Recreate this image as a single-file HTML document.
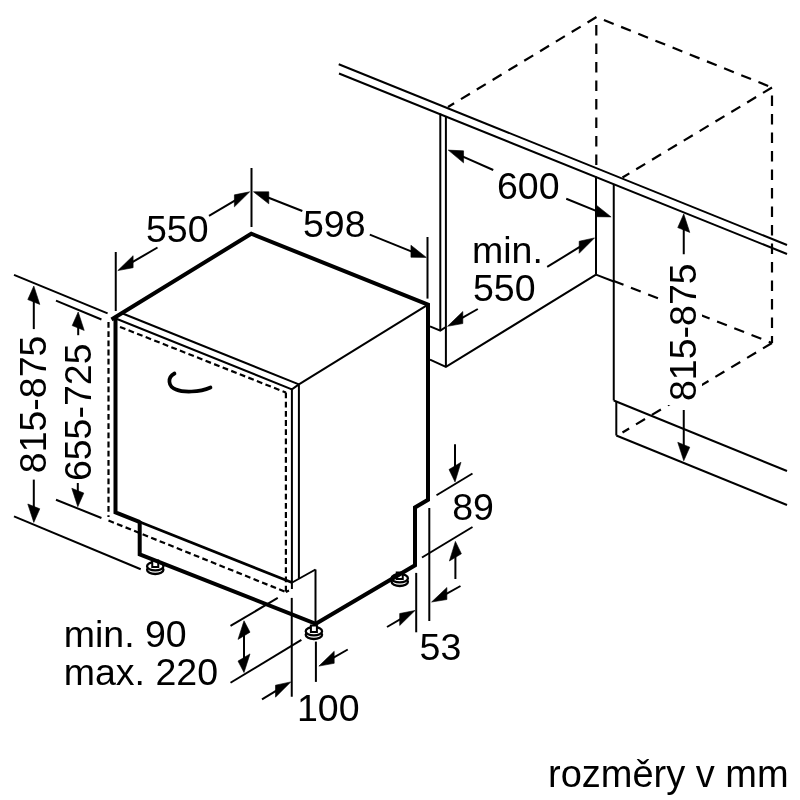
<!DOCTYPE html>
<html><head><meta charset="utf-8"><style>
html,body{margin:0;padding:0;background:#fff;width:800px;height:800px;overflow:hidden}
svg{display:block}
text{font-family:"Liberation Sans",sans-serif;fill:#000}
svg{will-change:transform}
</style></head><body>
<svg width="800" height="800" viewBox="0 0 800 800" stroke="#000" fill="none">
<rect x="0" y="0" width="800" height="800" fill="#fff" stroke="none"/>
<g>
<ellipse cx="155.25" cy="569.8" rx="8.2" ry="4.2" fill="#fff" stroke-width="2.3"/>
<ellipse cx="155.25" cy="566.2" rx="8.2" ry="4.2" fill="#fff" stroke-width="2.3"/>
<rect x="152.25" y="560.5" width="6" height="6.5" fill="#fff" stroke-width="2"/>
<ellipse cx="313.9" cy="634.8" rx="8.2" ry="4.2" fill="#fff" stroke-width="2.3"/>
<ellipse cx="313.9" cy="631.2" rx="8.2" ry="4.2" fill="#fff" stroke-width="2.3"/>
<rect x="310.9" y="625.5" width="6" height="6.5" fill="#fff" stroke-width="2"/>
<ellipse cx="399.75" cy="581.8" rx="8.2" ry="4.2" fill="#fff" stroke-width="2.3"/>
<ellipse cx="399.75" cy="578.2" rx="8.2" ry="4.2" fill="#fff" stroke-width="2.3"/>
<rect x="396.75" y="572.5" width="6" height="6.5" fill="#fff" stroke-width="2"/>
<line x1="338.75" y1="64.25" x2="787" y2="245" stroke-width="2.0" stroke-linecap="butt"/>
<line x1="339" y1="73.5" x2="787" y2="254" stroke-width="2.0" stroke-linecap="butt"/>
<line x1="596.5" y1="17" x2="448" y2="107" stroke-width="2.2" stroke-dasharray="10.5 8" stroke-dashoffset="0" stroke-linecap="butt"/>
<line x1="596.5" y1="17" x2="772" y2="87.5" stroke-width="2.2" stroke-dasharray="10.5 8" stroke-dashoffset="10.5" stroke-linecap="butt"/>
<line x1="772" y1="87.5" x2="622.5" y2="177.5" stroke-width="2.2" stroke-dasharray="10.5 8" stroke-dashoffset="0" stroke-linecap="butt"/>
<line x1="772" y1="87.5" x2="772" y2="343" stroke-width="2.2" stroke-dasharray="10.5 8" stroke-dashoffset="10.5" stroke-linecap="butt"/>
<line x1="596.3" y1="17" x2="596.3" y2="166" stroke-width="2.2" stroke-dasharray="10.5 8" stroke-dashoffset="10.5" stroke-linecap="butt"/>
<line x1="772" y1="343" x2="613.75" y2="281" stroke-width="2.2" stroke-dasharray="10.5 8" stroke-dashoffset="7" stroke-linecap="butt"/>
<line x1="772" y1="343" x2="622.5" y2="432.5" stroke-width="2.2" stroke-dasharray="10.5 8" stroke-dashoffset="0" stroke-linecap="butt"/>
<line x1="440.3" y1="113.5" x2="440.3" y2="330.7" stroke-width="2.0" stroke-linecap="butt"/>
<line x1="445.9" y1="116" x2="445.9" y2="366.9" stroke-width="2.0" stroke-linecap="butt"/>
<polyline points="430,326.3 440.3,330.7 445.9,327" fill="none" stroke-width="2.0" stroke-linejoin="miter"/>
<polyline points="430,359.6 445.9,366.9 596,274.6" fill="none" stroke-width="2.0" stroke-linejoin="miter"/>
<line x1="596" y1="176.5" x2="596" y2="274.6" stroke-width="2.0" stroke-linecap="butt"/>
<line x1="596" y1="274.6" x2="613.75" y2="281.5" stroke-width="2.0" stroke-linecap="butt"/>
<line x1="613.75" y1="184.5" x2="613.75" y2="400.5" stroke-width="2.0" stroke-linecap="butt"/>
<polyline points="613.75,400.5 787,471" fill="none" stroke-width="2.0" stroke-linejoin="miter"/>
<line x1="616.3" y1="401.5" x2="616.3" y2="435.5" stroke-width="2.0" stroke-linecap="butt"/>
<line x1="616.3" y1="435.5" x2="787" y2="505" stroke-width="2.0" stroke-linecap="butt"/>
<polyline points="111.5,319.5 251.25,233.75 428,304.7 428,499.75 415,507.5 415,565.25 315.8,623.75 139.7,554.4 139.7,521" fill="none" stroke-width="4.0" stroke-linejoin="miter"/>
<line x1="122" y1="313.2" x2="298.9" y2="384.4" stroke-width="2.0" stroke-linecap="butt"/>
<line x1="298.9" y1="384.4" x2="428" y2="304.7" stroke-width="2.0" stroke-linecap="butt"/>
<polyline points="117,319 291.9,389.4 298.9,384.4" fill="none" stroke-width="2.0" stroke-linejoin="miter"/>
<polyline points="115.5,317 115.5,512.4 140,522.1" fill="none" stroke-width="4.0" stroke-linejoin="miter"/>
<line x1="291.9" y1="389.4" x2="291.9" y2="589" stroke-width="2.0" stroke-linecap="butt"/>
<line x1="298.9" y1="384.4" x2="298.9" y2="578" stroke-width="2.0" stroke-linecap="butt"/>
<line x1="138" y1="521.3" x2="291.9" y2="582.5" stroke-width="2.8" stroke-linecap="butt"/>
<line x1="120" y1="326.9" x2="285.9" y2="392.5" stroke-width="2.2" stroke-dasharray="5.8 3.4" stroke-dashoffset="0" stroke-linecap="butt"/>
<line x1="108.5" y1="322" x2="108.5" y2="517" stroke-width="2.2" stroke-dasharray="5.8 3.4" stroke-dashoffset="0" stroke-linecap="butt"/>
<line x1="285.9" y1="392.5" x2="285.9" y2="592" stroke-width="2.2" stroke-dasharray="5.8 3.4" stroke-dashoffset="0" stroke-linecap="butt"/>
<line x1="108.5" y1="520.5" x2="285.75" y2="592" stroke-width="2.2" stroke-dasharray="5.8 3.4" stroke-dashoffset="0" stroke-linecap="butt"/>
<line x1="285.8" y1="592" x2="289" y2="590.5" stroke-width="2.0" stroke-linecap="butt"/>
<line x1="292.2" y1="582.5" x2="315.5" y2="569.5" stroke-width="2.0" stroke-linecap="butt"/>
<line x1="315.5" y1="569.5" x2="315.5" y2="623.75" stroke-width="2.0" stroke-linecap="butt"/>
<path d="M174.5,373.5 C167,377.5 168,386.5 176,389.5 C183,392.5 199,392.5 210.5,387.5" fill="none" stroke-width="3.7" stroke-linecap="round"/>
<line x1="251.5" y1="168" x2="251.5" y2="227" stroke-width="2.0" stroke-linecap="butt"/>
<line x1="115.75" y1="252" x2="115.75" y2="311" stroke-width="2.0" stroke-linecap="butt"/>
<line x1="427.5" y1="237" x2="427.5" y2="298.6" stroke-width="2.0" stroke-linecap="butt"/>
<line x1="157.5" y1="247.5" x2="128.51" y2="264.37" stroke-width="2.0"/>
<polygon points="117.8,270.6 133.10,255.70 133.10,267.70" stroke="#000" stroke-width="0.6" stroke-linejoin="round" fill="#000"/>
<line x1="209" y1="215.9" x2="238.99" y2="198.14" stroke-width="2.0"/>
<polygon points="249.7,191.8 234.40,194.86 234.40,206.86" stroke="#000" stroke-width="0.6" stroke-linejoin="round" fill="#000"/>
<line x1="302.3" y1="211" x2="264.21" y2="196.01" stroke-width="2.0"/>
<polygon points="253.5,191.8 268.80,191.82 268.80,203.82" stroke="#000" stroke-width="0.6" stroke-linejoin="round" fill="#000"/>
<line x1="369.8" y1="234.6" x2="415.54" y2="253.07" stroke-width="2.0"/>
<polygon points="426.25,257.4 410.95,245.22 410.95,257.22" stroke="#000" stroke-width="0.6" stroke-linejoin="round" fill="#000"/>
<text x="146" y="242" stroke="none" font-size="37.5" text-anchor="start">550</text>
<text x="303" y="236.5" stroke="none" font-size="37.5" text-anchor="start">598</text>
<line x1="493.25" y1="170" x2="458.96" y2="154.84" stroke-width="2.0"/>
<polygon points="448.25,150.1 463.55,150.87 463.55,162.87" stroke="#000" stroke-width="0.6" stroke-linejoin="round" fill="#000"/>
<line x1="566.25" y1="198.75" x2="600.39" y2="212.57" stroke-width="2.0"/>
<polygon points="611.1,216.9 595.80,204.71 595.80,216.71" stroke="#000" stroke-width="0.6" stroke-linejoin="round" fill="#000"/>
<text x="497" y="199" stroke="none" font-size="37.5" text-anchor="start">600</text>
<line x1="547.2" y1="266.9" x2="583.79" y2="244.47" stroke-width="2.0"/>
<polygon points="594.5,237.9 579.20,241.28 579.20,253.28" stroke="#000" stroke-width="0.6" stroke-linejoin="round" fill="#000"/>
<line x1="477.8" y1="309" x2="458.21" y2="320.19" stroke-width="2.0"/>
<polygon points="447.5,326.3 462.80,311.56 462.80,323.56" stroke="#000" stroke-width="0.6" stroke-linejoin="round" fill="#000"/>
<text x="472" y="262.6" stroke="none" font-size="37.5" text-anchor="start">min.</text>
<text x="473" y="300.5" stroke="none" font-size="37.5" text-anchor="start">550</text>
<line x1="683.75" y1="254.25" x2="683.75" y2="225.20" stroke-width="2.0"/>
<polygon points="683.75,214 677.75,227.60 689.75,232.40" stroke="#000" stroke-width="0.6" stroke-linejoin="round" fill="#000"/>
<line x1="683.75" y1="410" x2="683.75" y2="449.55" stroke-width="2.0"/>
<polygon points="683.75,460.75 677.75,442.35 689.75,447.15" stroke="#000" stroke-width="0.6" stroke-linejoin="round" fill="#000"/>
<rect x="663" y="259" width="39" height="146" fill="#fff" stroke="none"/>
<text x="695.5" y="401" stroke="none" font-size="37.5" text-anchor="start" transform="rotate(-90 695.5 401)">815-875</text>
<line x1="14" y1="274.9" x2="107.6" y2="313.35" stroke-width="2.0" stroke-linecap="butt"/>
<line x1="56" y1="300.6" x2="101.45" y2="319.5" stroke-width="2.0" stroke-linecap="butt"/>
<line x1="14" y1="516.3" x2="140.75" y2="569.25" stroke-width="2.0" stroke-linecap="butt"/>
<line x1="56" y1="499.7" x2="101.45" y2="518" stroke-width="2.0" stroke-linecap="butt"/>
<line x1="33.8" y1="329.1" x2="33.80" y2="297.20" stroke-width="2.0"/>
<polygon points="33.8,286 27.80,299.60 39.80,304.40" stroke="#000" stroke-width="0.6" stroke-linejoin="round" fill="#000"/>
<line x1="33.8" y1="479.6" x2="33.80" y2="511.20" stroke-width="2.0"/>
<polygon points="33.8,522.4 27.80,504.00 39.80,508.80" stroke="#000" stroke-width="0.6" stroke-linejoin="round" fill="#000"/>
<line x1="78.2" y1="335.2" x2="78.20" y2="323.20" stroke-width="2.0"/>
<polygon points="78.2,312 72.20,325.60 84.20,330.40" stroke="#000" stroke-width="0.6" stroke-linejoin="round" fill="#000"/>
<line x1="77.8" y1="483" x2="77.80" y2="495.50" stroke-width="2.0"/>
<polygon points="77.8,506.7 71.80,488.30 83.80,493.10" stroke="#000" stroke-width="0.6" stroke-linejoin="round" fill="#000"/>
<text x="45.85" y="473.2" stroke="none" font-size="37.5" text-anchor="start" transform="rotate(-90 45.85 473.2)">815-875</text>
<text x="91.3" y="481.1" stroke="none" font-size="37.5" text-anchor="start" transform="rotate(-90 91.3 481.1)">655-725</text>
<line x1="436.5" y1="495.25" x2="472.5" y2="473.5" stroke-width="2.0" stroke-linecap="butt"/>
<line x1="422" y1="557.5" x2="472.5" y2="527" stroke-width="2.0" stroke-linecap="butt"/>
<line x1="455" y1="444.25" x2="455.00" y2="470.70" stroke-width="2.0"/>
<polygon points="455,481.9 449.00,469.50 461.00,462.30" stroke="#000" stroke-width="0.6" stroke-linejoin="round" fill="#000"/>
<line x1="455.4" y1="579" x2="455.40" y2="552.60" stroke-width="2.0"/>
<polygon points="455.4,541.4 449.40,561.00 461.40,553.80" stroke="#000" stroke-width="0.6" stroke-linejoin="round" fill="#000"/>
<text x="452.25" y="519.5" stroke="none" font-size="37.5" text-anchor="start">89</text>
<line x1="429.3" y1="508" x2="429.3" y2="621" stroke-width="2.0" stroke-linecap="butt"/>
<line x1="416.2" y1="572.9" x2="416.2" y2="632.3" stroke-width="2.0" stroke-linecap="butt"/>
<line x1="460.5" y1="586" x2="442.31" y2="596.07" stroke-width="2.0"/>
<polygon points="431.6,602 446.90,587.53 446.90,599.53" stroke="#000" stroke-width="0.6" stroke-linejoin="round" fill="#000"/>
<line x1="387" y1="627" x2="404.29" y2="616.81" stroke-width="2.0"/>
<polygon points="415,610.5 399.70,613.52 399.70,625.52" stroke="#000" stroke-width="0.6" stroke-linejoin="round" fill="#000"/>
<text x="419.6" y="659.8" stroke="none" font-size="37.5" text-anchor="start">53</text>
<line x1="230.5" y1="625.9" x2="277.75" y2="597.9" stroke-width="2.0" stroke-linecap="butt"/>
<line x1="230.5" y1="682.75" x2="301.4" y2="639.9" stroke-width="2.0" stroke-linecap="butt"/>
<line x1="244" y1="647" x2="244.00" y2="631.30" stroke-width="2.0"/>
<polygon points="244,620.8 238.00,639.40 250.00,632.20" stroke="#000" stroke-width="0.6" stroke-linejoin="round" fill="#000"/>
<line x1="244" y1="647" x2="244.00" y2="662.00" stroke-width="2.0"/>
<polygon points="244,672.5 238.00,661.10 250.00,653.90" stroke="#000" stroke-width="0.6" stroke-linejoin="round" fill="#000"/>
<text x="63.75" y="647" stroke="none" font-size="37.5" text-anchor="start">min. 90</text>
<text x="63.75" y="684.5" stroke="none" font-size="37.5" text-anchor="start">max. 220</text>
<line x1="291.75" y1="597.9" x2="291.75" y2="696.75" stroke-width="2.0" stroke-linecap="butt"/>
<line x1="315.9" y1="641.6" x2="315.9" y2="681.9" stroke-width="2.0" stroke-linecap="butt"/>
<line x1="262" y1="699.4" x2="280.09" y2="688.41" stroke-width="2.0"/>
<polygon points="290.8,681.9 275.50,685.20 275.50,697.20" stroke="#000" stroke-width="0.6" stroke-linejoin="round" fill="#000"/>
<line x1="347.75" y1="649.5" x2="329.61" y2="659.94" stroke-width="2.0"/>
<polygon points="318.9,666.1 334.20,651.30 334.20,663.30" stroke="#000" stroke-width="0.6" stroke-linejoin="round" fill="#000"/>
<text x="297" y="720.75" stroke="none" font-size="37.5" text-anchor="start">100</text>
<text x="548" y="787" stroke="none" font-size="38" text-anchor="start">rozměry v mm</text>
</g>
</svg>
</body></html>
